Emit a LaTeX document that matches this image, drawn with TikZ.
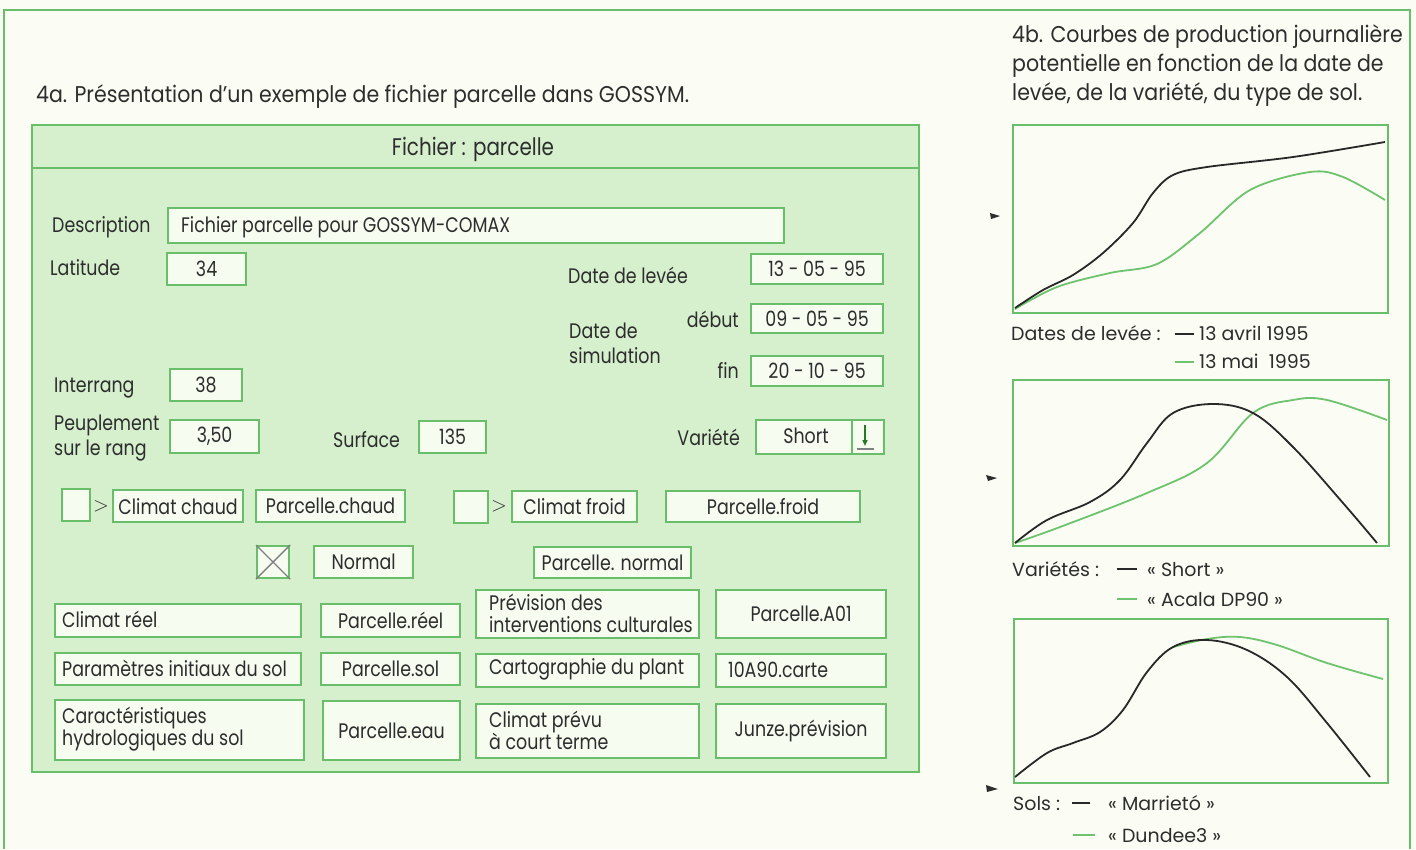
\documentclass[tikz,border=0pt]{standalone}
\usepackage{fontspec}
\setmainfont[FakeStretch=0.83]{Poppins}
\newfontfamily\tfont[FakeStretch=0.9]{Poppins}
\newfontfamily\lfont{Poppins}
\usetikzlibrary{arrows.meta}
\definecolor{gb}{RGB}{105,190,105}
\definecolor{panel}{RGB}{214,240,206}
\definecolor{boxf}{RGB}{247,252,241}
\definecolor{bg}{RGB}{251,252,243}
\definecolor{txt}{RGB}{45,45,45}
\definecolor{gcurve}{RGB}{110,195,110}
\definecolor{dkc}{RGB}{40,40,40}
\definecolor{darrow}{RGB}{40,120,40}
\newcommand\lab{\fontsize{21}{22}\selectfont}
\newcommand\ttl{\tfont\fontsize{22.8}{28}\selectfont}
\newcommand\leg{\lfont\fontsize{19}{30}\selectfont}
\tikzset{
 box/.style={draw=gb,fill=boxf,line width=2.2pt,inner sep=0pt,text=txt,font=\lab},
 tx/.style={inner sep=0pt,text=txt,font=\lab},
 chart/.style={draw=gb,line width=1.8pt,fill=bg,inner sep=0pt},
 blk/.style={line width=1.8pt,draw=dkc},
 grn/.style={line width=1.8pt,draw=gcurve},
}
% \fbx[opts]{name}{x1}{y1}{x2}{y2}{text}
\newcommand\fbx[7][]{\node[box,anchor=north west,minimum width={(#5)-(#3)},minimum height={(#6)-(#4)},align=center,#1] (#2) at (#3,#4) {#7};}
\begin{document}
\begin{tikzpicture}[x=1pt,y=-1pt]
\fill[bg] (0,0) rectangle (1416,849);
\useasboundingbox (0,0) rectangle (1416,849);
% outer frame
\coordinate (fbl) at (4,849); \coordinate (ftl) at (4,10);
\coordinate (ftr) at (1410,10); \coordinate (fbr) at (1410,849);
\draw[gb,line width=1.6pt] (fbl) -- (ftl) -- (ftr) -- (fbr);
% ---------- 4a ----------
\node[tx,font=\ttl,anchor=base west] (t4a) at (36,102) {4a. Présentation d’un exemple de fichier parcelle dans GOSSYM.};
\node[draw=gb,fill=panel,line width=2.2pt,anchor=north west,minimum width=887,minimum height=647,inner sep=0pt] (pan) at (31,124) {};
\coordinate (tbl) at (31,168); \coordinate (tbr) at (918,168);
\draw[gb,line width=2.2pt] (tbl) -- (tbr);
\node[tx,anchor=base,font=\fontsize{24}{26}\selectfont] (ptitle) at (473,155) {Fichier : parcelle};
% description
\node[tx,anchor=base west] (ldesc) at (52,232) {Description};
\fbx{desc}{167}{207}{783}{242}{}
\node[tx,anchor=base west] (tdesc) at (181,232) {Fichier parcelle pour GOSSYM-COMAX};
\node[tx,anchor=base west] (llat) at (50,275) {Latitude};
\fbx{lat}{166}{252}{245}{284}{34}
\node[tx,anchor=base west] (lint) at (54,392) {Interrang};
\fbx{int}{169}{368}{241}{400}{38}
\node[tx,anchor=base west] (lpeu1) at (54,430) {Peuplement};
\node[tx,anchor=base west] (lpeu2) at (54,455) {sur le rang};
\fbx{peu}{169}{419}{258}{452}{3,50}
\node[tx,anchor=base west] (lsurf) at (333,447) {Surface};
\fbx{surf}{418}{420}{485}{452}{135}
% dates
\node[tx,anchor=base west] (llev) at (568,283) {Date de levée};
\fbx{lev}{750}{253}{882}{283}{13 - 05 - 95}
\node[tx,anchor=base west] (lsim1) at (569,338) {Date de};
\node[tx,anchor=base west] (lsim2) at (569,363) {simulation};
\node[tx,anchor=base east] (ldeb) at (739,327) {début};
\fbx{deb}{750}{303}{882}{332}{09 - 05 - 95}
\node[tx,anchor=base east] (lfin) at (739,378) {fin};
\fbx{fin}{750}{355}{882}{385}{20 - 10 - 95}
\node[tx,anchor=base east] (lvar) at (740,445) {Variété};
\fbx{var}{755}{419}{883}{453}{}
\node[tx] (tvar) at (806,436) {Short};
\coordinate (vd1) at (852,419); \coordinate (vd2) at (852,453);
\draw[gb,line width=2pt] (vd1) -- (vd2);
\coordinate (va1) at (865,425); \coordinate (va2) at (865,446);
\draw[darrow,line width=1.4pt,-{Triangle[length=6pt,width=5pt]}] (va1) -- (va2);
\coordinate (vu1) at (857,449); \coordinate (vu2) at (874,449);
\draw[gray,line width=1.6pt] (vu1) -- (vu2);
% climate rows
\fbx{cb1}{61}{488}{89}{520}{}
\node[tx] (gt1) at (101,506) {$>$};
\fbx{chaud}{112}{489}{242}{521}{Climat chaud}
\fbx{pchaud}{255}{489}{404}{521}{Parcelle.chaud}
\fbx{cb2}{453}{490}{487}{522}{}
\node[tx] (gt2) at (499,506) {$>$};
\fbx{froid}{511}{490}{636}{521}{Climat froid}
\fbx{pfroid}{665}{490}{859}{521}{Parcelle.froid}
\fbx{cb3}{256}{545}{288}{577}{}
\draw[gray,line width=1.4pt] (cb3.north west) -- (cb3.south east) (cb3.north east) -- (cb3.south west);
\fbx{normal}{313}{545}{412}{577}{Normal}
\fbx{pnormal}{533}{546}{690}{577}{Parcelle. normal}
% file rows
\fbx{creel}{54}{603}{300}{636}{}
\node[tx,anchor=west] (tcreel) at (62,619.5) {Climat réel};
\fbx{preel}{320}{603}{459}{636}{Parcelle.réel}
\fbx{prev}{475}{589}{698}{637}{}
\node[tx,anchor=west,align=left] (tprev) at (489,613) {Prévision des\\interventions culturales};
\fbx{pa01}{715}{589}{885}{637}{Parcelle.A01}
\fbx{param}{54}{652}{300}{684}{}
\node[tx,anchor=west] (tparam) at (62,668) {Paramètres initiaux du sol};
\fbx{psol}{320}{652}{459}{684}{Parcelle.sol}
\fbx{carto}{475}{653}{698}{686}{}
\node[tx,anchor=west] (tcarto) at (489,669.5) {Cartographie du plant};
\fbx{carte}{715}{653}{885}{686}{}
\node[tx,anchor=west] (tcarte) at (728,669.5) {10A90.carte};
\fbx{hydro}{54}{699}{303}{759}{}
\node[tx,anchor=west,align=left] (thydro) at (62,729) {Caractéristiques\\hydrologiques du sol};
\fbx{peau}{322}{700}{459}{759}{Parcelle.eau}
\fbx{cprev}{475}{703}{698}{757}{}
\node[tx,anchor=west,align=left] (tcprev) at (489,730) {Climat prévu\\à court terme};
\fbx{junze}{715}{703}{885}{757}{Junze.prévision}
% ---------- 4b ----------
\node[tx,font=\ttl,anchor=base west] (t4b1) at (1012,42) {4b. Courbes de production journalière};
\node[tx,font=\ttl,anchor=base west] (t4b2) at (1012,71) {potentielle en fonction de la date de};
\node[tx,font=\ttl,anchor=base west] (t4b3) at (1012,100) {levée, de la variété, du type de sol.};
% chart 1
\node[chart,anchor=north west,minimum width=375,minimum height=188] (c1) at (1012,124) {};
\draw[grn] plot[smooth,tension=0.55] coordinates {(1015,309) (1057,287) (1110,273) (1157,264) (1200,233) (1250,190) (1310,172) (1343,177) (1385,200)};
\draw[blk] plot[smooth,tension=0.55] coordinates {(1015,308) (1043,290) (1073,275) (1103,253) (1133,223) (1153,193) (1173,175) (1207,167) (1293,157) (1385,142)};
\coordinate (m1) at (1000,216);
\fill[txt] (m1) -- ++(-10,-3) -- ++(1,6) -- cycle;
\node[tx,font=\leg,anchor=base west] (l1) at (1011,340) {Dates de levée :};
\coordinate (d1a) at (1175,334); \coordinate (d1b) at (1194,334);
\draw[blk] (d1a) -- (d1b);
\node[tx,font=\leg,anchor=base west] (l1a) at (1199,340) {13 avril 1995};
\coordinate (d2a) at (1175,362); \coordinate (d2b) at (1194,362);
\draw[grn] (d2a) -- (d2b);
\node[tx,font=\leg,anchor=base west] (l1b) at (1199,368) {13 mai\ \ 1995};
% chart 2
\node[chart,anchor=north west,minimum width=376,minimum height=166] (c2) at (1012,379) {};
\draw[grn] plot[smooth,tension=0.6] coordinates {(1015,543) (1060,527) (1147,493) (1207,463) (1253,413) (1293,400) (1327,400) (1387,420)};
\draw[blk] plot[smooth,tension=0.6] coordinates {(1015,543) (1047,520) (1090,502) (1120,480) (1147,443) (1173,413) (1213,404) (1253,413) (1293,447) (1343,503) (1377,543)};
\coordinate (m2) at (997,478);
\fill[txt] (m2) -- ++(-11,-3) -- ++(2,6) -- cycle;
\node[tx,font=\leg,anchor=base west] (l2) at (1012,576) {Variétés :};
\coordinate (d3a) at (1117,569); \coordinate (d3b) at (1137,569);
\draw[blk] (d3a) -- (d3b);
\node[tx,font=\leg,anchor=base west] (l2a) at (1147,576) {« Short »};
\coordinate (d4a) at (1117,599); \coordinate (d4b) at (1137,599);
\draw[grn] (d4a) -- (d4b);
\node[tx,font=\leg,anchor=base west] (l2b) at (1147,606) {« Acala DP90 »};
% chart 3
\node[chart,anchor=north west,minimum width=374,minimum height=164] (c3) at (1013,618) {};
\draw[grn] plot[smooth,tension=0.6] coordinates {(1173,647) (1207,639) (1240,637) (1277,645) (1327,663) (1383,679)};
\draw[blk] plot[smooth,tension=0.6] coordinates {(1015,777) (1047,753) (1073,743) (1100,732) (1123,710) (1147,672) (1173,647) (1207,640) (1247,650) (1287,677) (1327,723) (1370,777)};
\coordinate (m3) at (998,789);
\fill[txt] (m3) -- ++(-12,-4) -- ++(1,7) -- cycle;
\node[tx,font=\leg,anchor=base west] (l3) at (1013,810) {Sols :};
\coordinate (d5a) at (1072,803); \coordinate (d5b) at (1090,803);
\draw[blk] (d5a) -- (d5b);
\node[tx,font=\leg,anchor=base west] (l3a) at (1108,810) {« Marrietó »};
\coordinate (d6a) at (1073,835); \coordinate (d6b) at (1095,835);
\draw[grn] (d6a) -- (d6b);
\node[tx,font=\leg,anchor=base west] (l3b) at (1108,842) {« Dundee3 »};
\end{tikzpicture}
\end{document}
